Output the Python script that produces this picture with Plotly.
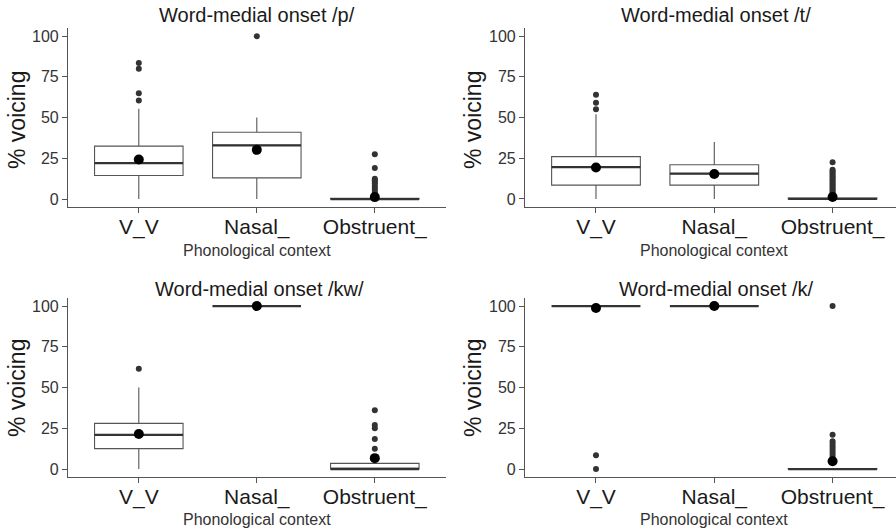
import plotly.graph_objects as go

# ---------------- data ----------------
CONTEXTS = ["V_V", "Nasal_", "Obstruent_"]
Y_TICKS = [0, 25, 50, 75, 100]

TITLES = ["Word-medial onset /p/", "Word-medial onset /t/",
          "Word-medial onset /kw/", "Word-medial onset /k/"]

# /p/
p_q1 = [14.5, 13, 0]
p_med = [22, 33, 0]
p_q3 = [32.5, 41, 0.5]
p_lo = [0, 0, 0]
p_hi = [55.5, 50, 0.5]
p_mean = [24.3, 30.2, 1.2]
p_out_vv = [60.5, 65, 80, 83.5]
p_out_nasal = [100]
p_out_obs = [27.5, 19, 12.5, 11.5, 10.5, 9.5, 8, 7, 5.5, 4, 3, 2]

# /t/
t_q1 = [8.5, 8.5, 0]
t_med = [19.5, 15.5, 0]
t_q3 = [26, 21, 0.5]
t_lo = [0, 0, 0]
t_hi = [52, 35, 0.5]
t_mean = [19.3, 15.3, 1.2]
t_out_vv = [55, 59, 64]
t_out_nasal = []
t_out_obs = [22.5, 18, 17, 16, 15, 14, 13, 12, 11, 10, 9, 8, 7, 6, 5, 4, 3, 2]

# /kw/
kw_q1 = [12.5, 100, 0]
kw_med = [21, 100, 0]
kw_q3 = [28, 100, 3.5]
kw_lo = [0, 100, 0]
kw_hi = [50, 100, 3.5]
kw_mean = [21.5, 100, 6.7]
kw_out_vv = [61.5]
kw_out_nasal = []
kw_out_obs = [36, 27, 25, 18.5, 12.5, 7]

# /k/
k_q1 = [100, 100, 0]
k_med = [100, 100, 0]
k_q3 = [100, 100, 0.3]
k_lo = [100, 100, 0]
k_hi = [100, 100, 0.3]
k_mean = [98.8, 100, 4.8]
k_out_vv = [8.5, 0]
k_out_nasal = []
k_out_obs = [100, 21, 17, 15.5, 14, 12.5, 11, 9.5, 8, 6.5, 5]

PANELS = [
    (p_q1, p_med, p_q3, p_lo, p_hi, p_mean, [p_out_vv, p_out_nasal, p_out_obs]),
    (t_q1, t_med, t_q3, t_lo, t_hi, t_mean, [t_out_vv, t_out_nasal, t_out_obs]),
    (kw_q1, kw_med, kw_q3, kw_lo, kw_hi, kw_mean, [kw_out_vv, kw_out_nasal, kw_out_obs]),
    (k_q1, k_med, k_q3, k_lo, k_hi, k_mean, [k_out_vv, k_out_nasal, k_out_obs]),
]

# ---------------- layout geometry ----------------
W, H = 896, 532
FONT = "Liberation Sans, Arial, sans-serif"
BOX_W = 0.75
LINE_C = "#555555"
DARK = "#333333"
TEXT_C = "#1a1a1a"

# pixel geometry (left, right, top, bottom) per panel
PIX = [(68, 445.6, 28.0, 207.2), (525, 896, 27.9, 207.1),
       (68, 445.6, 297.9, 477.2), (525, 896, 297.9, 477.2)]
XRANGES = [[0.4, 3.6], [0.4, 3.536], [0.4, 3.6], [0.4, 3.536]]

fig = go.Figure()
pos = [1, 2, 3]

for i, (q1, med, q3, lo, hi, mean, outs) in enumerate(PANELS):
    xa = "x" if i == 0 else f"x{i+1}"
    ya = "y" if i == 0 else f"y{i+1}"
    fig.add_trace(go.Box(
        x=pos, q1=q1, median=med, q3=q3, lowerfence=lo, upperfence=hi,
        width=BOX_W, whiskerwidth=0, fillcolor="white",
        line=dict(color=LINE_C, width=1.1), boxpoints=False,
        xaxis=xa, yaxis=ya, showlegend=False, hoverinfo="skip"))
    # thicker median segments
    mx, my = [], []
    for c, m in zip(pos, med):
        mx += [c - BOX_W / 2, c + BOX_W / 2, None]
        my += [m, m, None]
    fig.add_trace(go.Scatter(x=mx, y=my, mode="lines",
                             line=dict(color=DARK, width=2.2),
                             xaxis=xa, yaxis=ya, showlegend=False, hoverinfo="skip"))
    # outliers
    ox, oy = [], []
    for c, o in zip(pos, outs):
        ox += [c] * len(o)
        oy += list(o)
    fig.add_trace(go.Scatter(x=ox, y=oy, mode="markers",
                             marker=dict(color=DARK, size=6),
                             xaxis=xa, yaxis=ya, showlegend=False, hoverinfo="skip"))
    # means
    fig.add_trace(go.Scatter(x=pos, y=mean, mode="markers",
                             marker=dict(color="black", size=10),
                             xaxis=xa, yaxis=ya, showlegend=False, hoverinfo="skip"))

layout = dict(width=W, height=H, margin=dict(l=0, r=0, t=0, b=0),
              paper_bgcolor="white", plot_bgcolor="white",
              font=dict(family=FONT, color=TEXT_C), annotations=[])

for i in range(4):
    l, r, t, b = PIX[i]
    xkey = "xaxis" if i == 0 else f"xaxis{i+1}"
    ykey = "yaxis" if i == 0 else f"yaxis{i+1}"
    xa = "x" if i == 0 else f"x{i+1}"
    ya = "y" if i == 0 else f"y{i+1}"
    layout[xkey] = dict(domain=[l / W, r / W], range=XRANGES[i], anchor=ya,
                        tickvals=pos, ticktext=CONTEXTS, showgrid=False, zeroline=False,
                        showline=True, linecolor=LINE_C, linewidth=1.1,
                        ticks="outside", ticklen=5, tickcolor=LINE_C,
                        ticklabelstandoff=-4,
                        tickfont=dict(size=21, color=TEXT_C, family=FONT))
    layout[ykey] = dict(domain=[1 - b / H, 1 - t / H], range=[-5, 105], anchor=xa,
                        tickvals=Y_TICKS, showgrid=False, zeroline=False,
                        showline=True, linecolor=LINE_C, linewidth=1.1,
                        ticks="outside", ticklen=5, tickcolor=LINE_C,
                        tickfont=dict(size=16, color="#333333", family=FONT))

TITLE_X = [257, 716, 259, 716]
TITLE_Y = [15, 15, 289, 289]
XT_X = [257, 714, 257, 714]
XT_Y = [251, 251, 519, 519]
YT_X = [17, 473, 17, 473]
YT_Y = [120, 120, 388, 388]
for i in range(4):
    layout["annotations"].append(dict(
        text=TITLES[i], x=TITLE_X[i] / W, y=1 - TITLE_Y[i] / H, xref="paper", yref="paper",
        showarrow=False, xanchor="center", yanchor="middle",
        font=dict(size=20, color=TEXT_C, family=FONT)))
    layout["annotations"].append(dict(
        text="Phonological context", x=XT_X[i] / W, y=1 - XT_Y[i] / H, xref="paper", yref="paper",
        showarrow=False, xanchor="center", yanchor="middle",
        font=dict(size=16, color="#333333", family=FONT)))
    layout["annotations"].append(dict(
        text="% voicing", x=YT_X[i] / W, y=1 - YT_Y[i] / H, xref="paper", yref="paper",
        showarrow=False, xanchor="center", yanchor="middle", textangle=-90,
        font=dict(size=23, color=TEXT_C, family=FONT)))

fig.update_layout(**layout)
fig.write_html("out.html", config={"displayModeBar": False},
               post_script="document.body.style.margin='0';document.body.style.overflow='hidden';")
